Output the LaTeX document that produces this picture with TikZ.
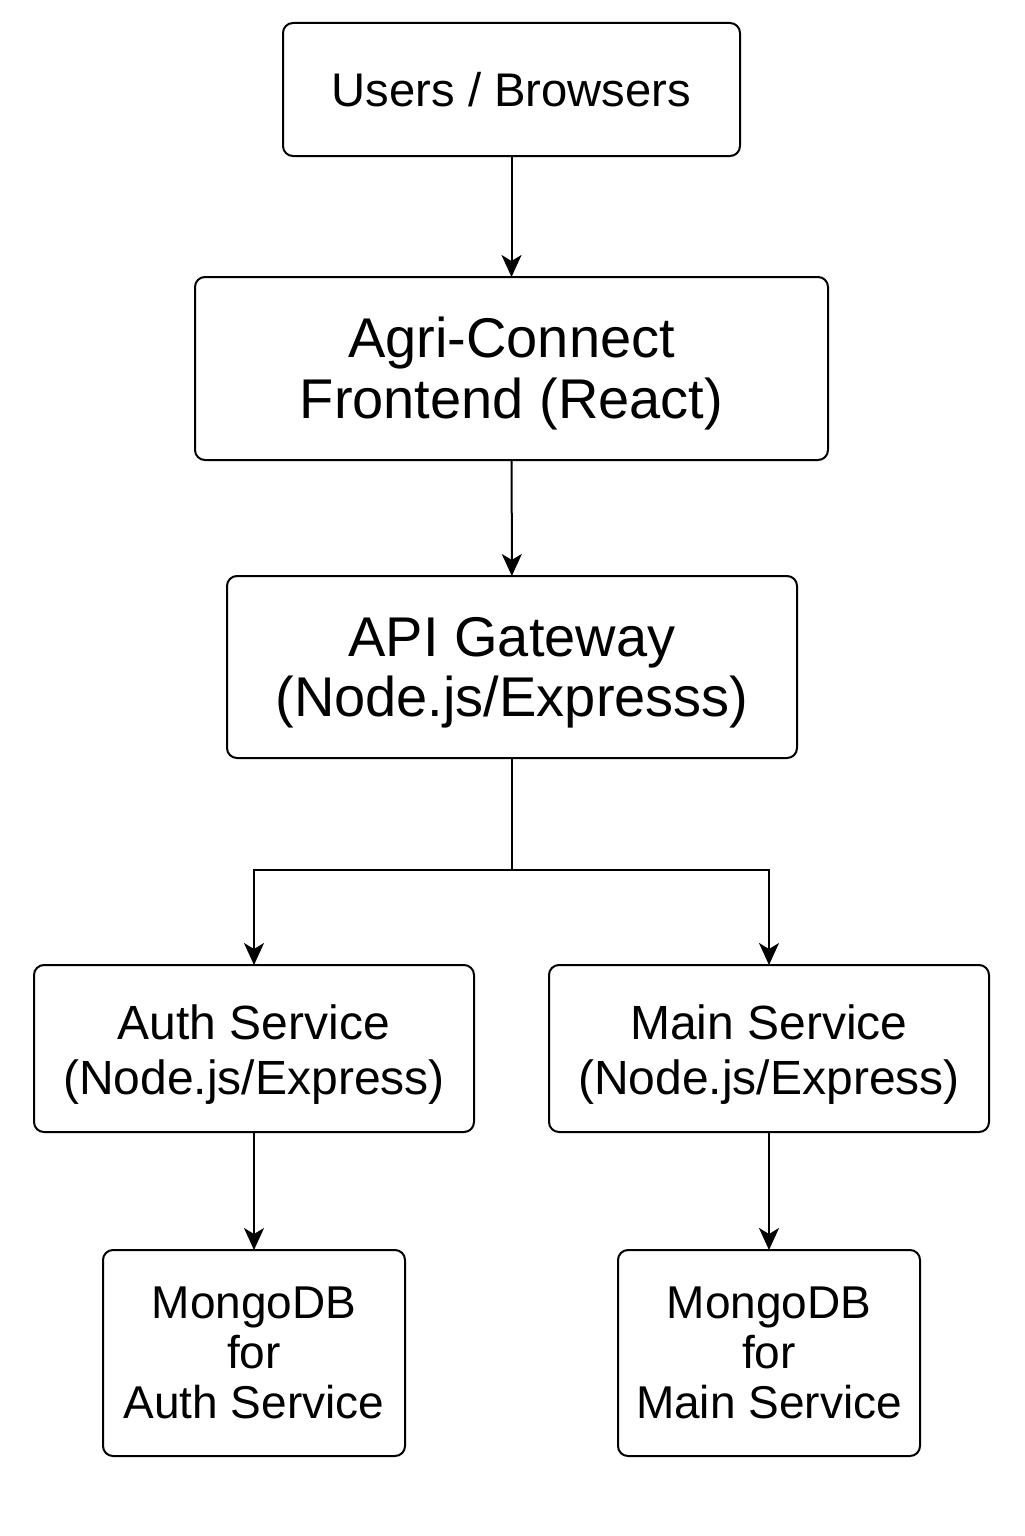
\documentclass[tikz,border=0pt]{standalone}
\usepackage{fontspec}
\setmainfont{Liberation Sans}
\usepackage{tikz}
\usetikzlibrary{arrows.meta, positioning}

\begin{document}
\begin{tikzpicture}[
    x=0.5pt, y=-0.5pt,
    block/.style={draw, line width=1pt, rounded corners=5pt, align=center, inner sep=0pt, outer sep=0pt},
    arrow/.style={-{Stealth[length=11pt, width=10pt, inset=3pt]}, line width=1pt},
    link/.style={line width=1pt},
]

% Canvas
\useasboundingbox (0, 0) rectangle (1024, 1536);

% Clients
\node[block, minimum width=228.5pt, minimum height=66.5pt,
      font=\fontsize{23.6}{26}\selectfont] (users) at (511.5, 89.5) {Users / Browsers};

% Frontend
\node[block, minimum width=316.5pt, minimum height=91.5pt,
      font=\fontsize{28}{30.5}\selectfont] (front) at (511.5, 368.5) {\rule{0pt}{25pt}Agri-Connect\\Frontend (React)};

% Gateway
\node[block, minimum width=285pt, minimum height=91pt,
      font=\fontsize{28}{30}\selectfont] (gate) at (512, 667) {\rule{0pt}{25pt}API Gateway\\(Node.js/Expresss)};

% Services
\node[block, minimum width=220pt, minimum height=83.5pt,
      font=\fontsize{24}{27.5}\selectfont] (auth) at (254, 1048.5) {\rule{0pt}{23pt}Auth Service\\(Node.js/Express)};
\node[block, minimum width=220pt, minimum height=83.5pt,
      font=\fontsize{24}{27.5}\selectfont] (main) at (769, 1048.5) {\rule{0pt}{23pt}Main Service\\(Node.js/Express)};

% Databases
\node[block, minimum width=151pt, minimum height=103pt,
      font=\fontsize{23}{25}\selectfont] (authdb) at (254, 1353) {MongoDB\\for\\Auth Service};
\node[block, minimum width=151pt, minimum height=103pt,
      font=\fontsize{23}{25}\selectfont] (maindb) at (769, 1353) {MongoDB\\for\\Main Service};

% Connections
\coordinate (split) at (512, 870);
\draw[arrow] (users) -- (front);
\draw[arrow] (front) -- (gate);
\draw[link] (gate) -- (split);
\draw[arrow] (split) -| (auth);
\draw[arrow] (split) -| (main);
\draw[arrow] (auth) -- (authdb);
\draw[arrow] (main) -- (maindb);

\end{tikzpicture}
\end{document}
